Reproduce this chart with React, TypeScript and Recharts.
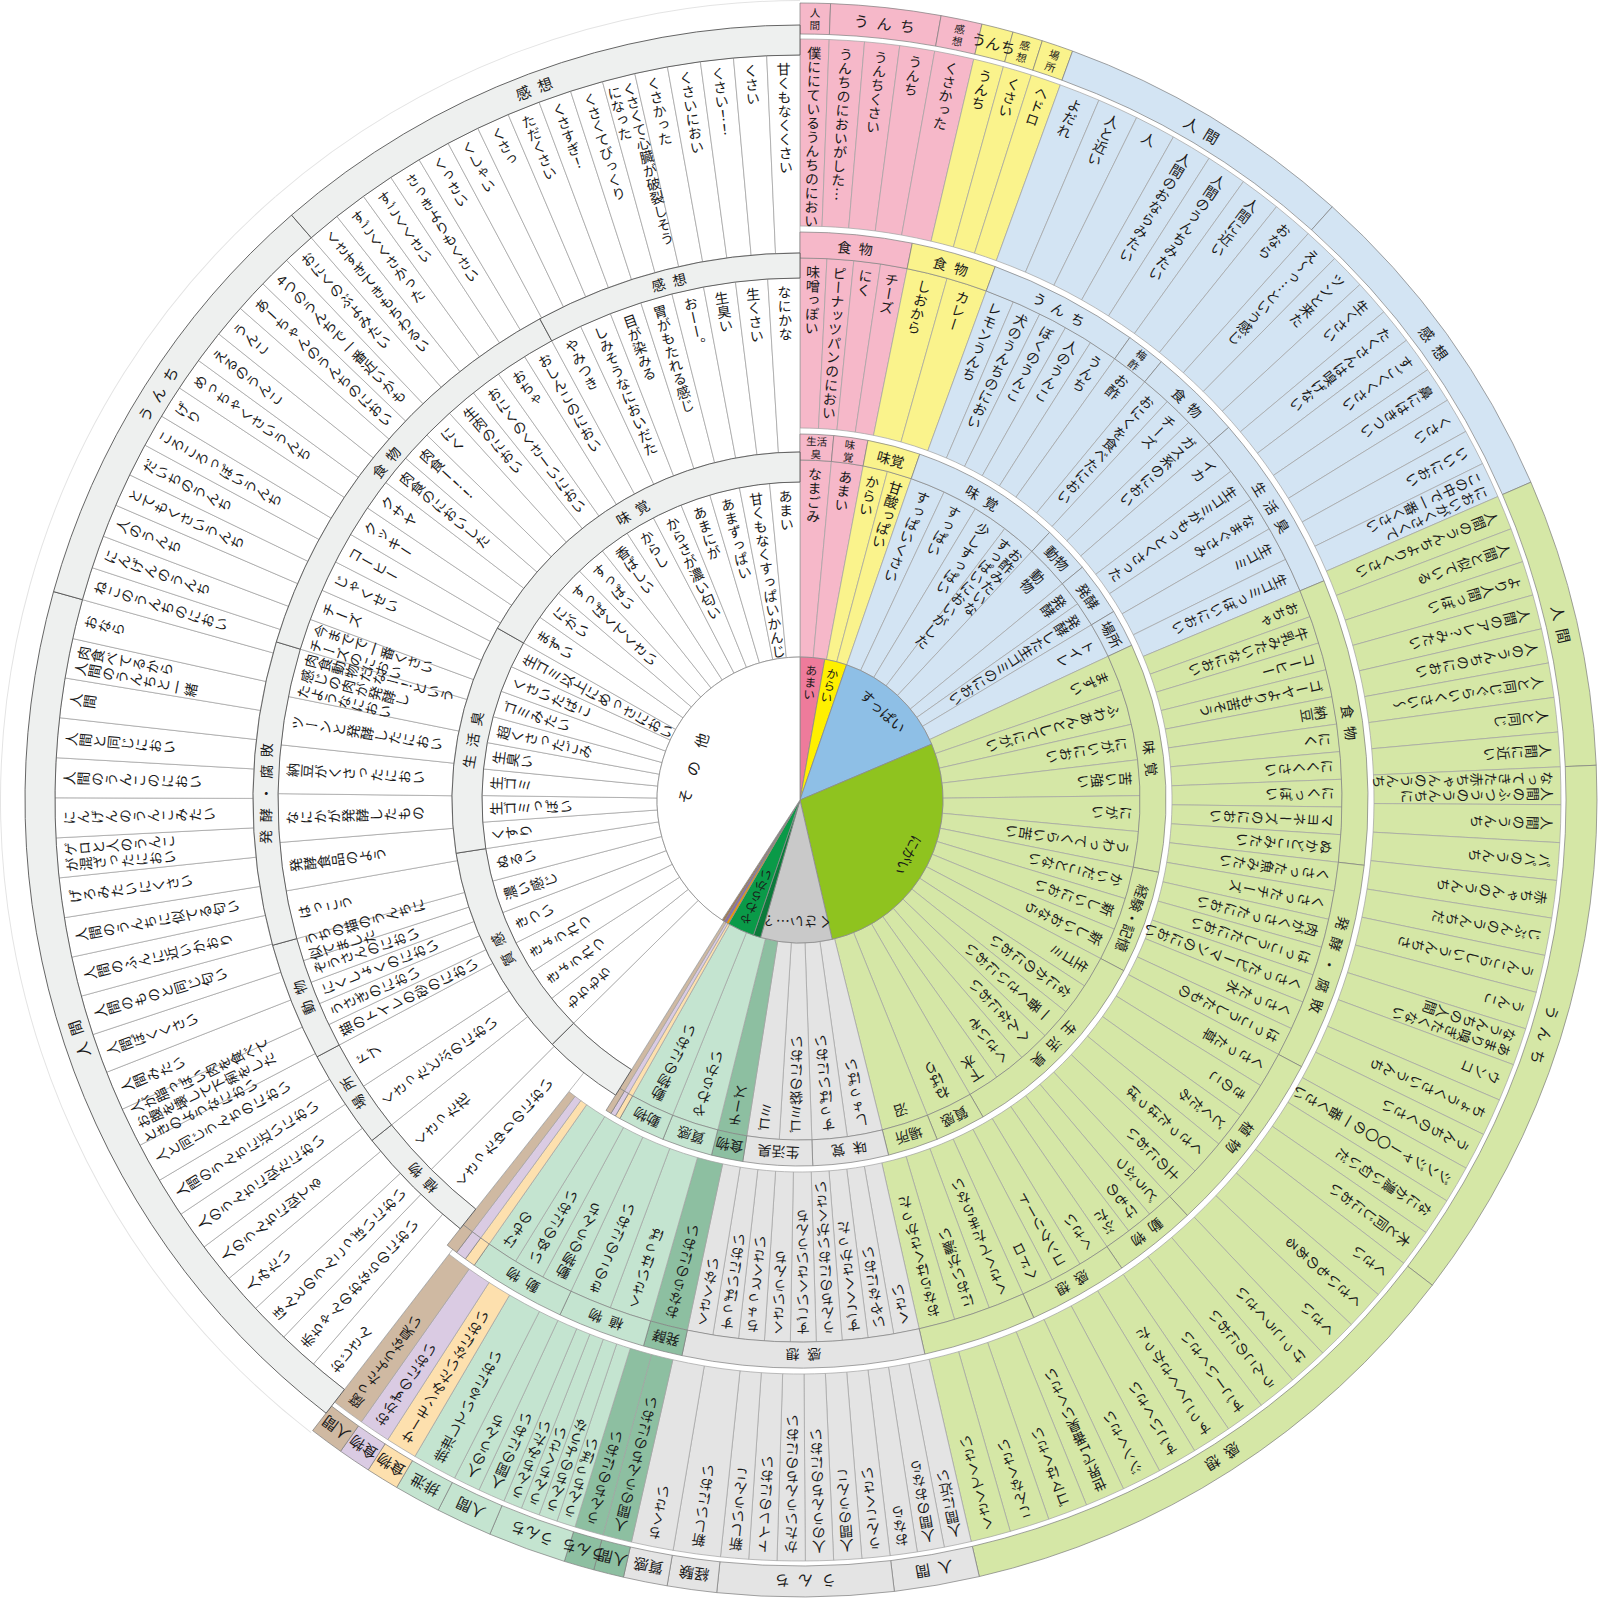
import React from 'react';
import { PieChart, Pie, Cell } from 'recharts';

const FONT = '"Noto Sans CJK JP", "Noto Sans", sans-serif';

// ring fill per category
const LEAF_COLOR: Record<string, string> = {
  amai: '#f6b8c9',
  karai: '#faf38c',
  suppai: '#d3e4f3',
  nigai: '#d5e7a6',
  kusai: '#e4e4e4',
  tealDark: '#8dbfa1',
  teal: '#c4e4d0',
  orange: '#fde0ae',
  purple: '#dacbe3',
  brown: '#cfb9a2',
  other: '#ffffff',
};

const CENTER_COLOR: Record<string, string> = {
  amai: '#ee7b9b',
  karai: '#fff000',
  suppai: '#8ebfe6',
  nigai: '#8fc31f',
  kusai: '#c9c9c9',
  tealDark: '#0b7a3a',
  teal: '#0a9a48',
  orange: '#f39800',
  purple: '#8c6aae',
  brown: '#a47b55',
  other: '#ffffff',
};

// center pie
const CENTER_CATS = ['amai', 'karai', 'suppai', 'nigai', 'kusai', 'tealDark', 'teal', 'orange', 'purple', 'brown', 'other'];
const CENTER_LABELS = ['あまい', 'からい', 'すっぱい', 'にがい', 'くさい…？', '', 'やわらかい', '', '', '', 'その他'];
const CENTER_VALUES = [10, 9, 48, 100, 29, 3, 11, 1, 1, 1, 147];

// [category, group name, span in degrees, items] clockwise from 12 o'clock
type Group = [string, string, number, string[]];

const INNER_GROUPS: Group[] = [
  ['amai', '生活\n臭', 5.3, ['なまごみ']],
  ['amai', '味\n覚', 5.4, ['あまい']],
  ['karai', '味覚', 8.4, ['からい', '甘酸っぱい']],
  ['suppai', '味覚', 23.9, ['すっぱいくさい', 'すっぱい', '少しすっぱい', 'お酢みたいな\nすっぱいにおいがした']],
  ['suppai', '動物', 7.5, ['動物']],
  ['suppai', '発酵', 8.5, ['発酵', '発酵した生ゴミのにおい']],
  ['suppai', '場所', 6, ['トイレ']],
  ['nigai', '味覚', 36.4, ['まずい', 'ふわあんとしてにがい', 'にがいにおい', '苦い強い', 'にがい', 'うわってくらい苦い']],
  ['nigai', '経験・記憶', 16.4, ['かいだことない', '新しいにおい', '新しいおなら']],
  ['nigai', '生活臭', 32.2, ['生ゴミ', 'なにかのにおい', '一番くさいにおい', 'へんなにおい', 'くさいぞ', '下水']],
  ['nigai', '質感', 8, ['ねばり']],
  ['nigai', '場所', 8, ['沼']],
  ['kusai', '味覚', 12, ['しょっぱい', 'すっぱいにおい']],
  ['kusai', '生活臭', 11, ['ゴミ袋のにおい', 'ゴミ']],
  ['tealDark', '食物', 5, ['チーズ']],
  ['teal', '質感', 8, ['やわらかい']],
  ['teal', '動物', 7.5, ['動物のにおい']],
  ['orange', '', 0.8, ['']],
  ['purple', '', 0.8, ['']],
  ['brown', '', 0.9, ['']],
  ['other', '', 13.4, ['']],
  ['other', '質感', 35.8, ['もちもち', 'きょうれつ', 'きょうれつ', 'きつい', '濃い感じ', 'ぬるい']],
  ['other', '生活臭', 38.4, ['くすり', '生ゴミっぽい', '生ゴミ', '生臭い', '超くさったごみ', 'ゴミみたい', 'くさいたばこ', '生ゴミ以上にめっさにおい']],
  ['other', '味覚', 60.4, ['まずい', 'にがい', 'すっぱくてくさい', 'すっぱい', '香ばしい', 'からし', 'からさが濃い匂い', 'あまにが', 'あまずっぱい', '甘くもなくすっぱいかんじ', 'あまい']],
];

const MIDDLE_GROUPS: Group[] = [
  ['amai', '食物', 11.4, ['味噌っぽい', 'ピーナッツパンのにおい', 'にく', 'チーズ']],
  ['karai', '食物', 8.7, ['しおから', 'カレー']],
  ['suppai', 'うんち', 15.4, ['レモンうんち', '犬のうんちのにおい', 'ぼくのうんこ', '人のうんこ', 'うんち']],
  ['suppai', '梅\n酢', 4, ['お酢']],
  ['suppai', '食物', 9.5, ['おにくを食べたにおい', 'チーズ', 'ガス系のにおい']],
  ['suppai', '生活臭', 18.3, ['イカ', '生ゴミがもっとくさった', 'なまぐさみ', '生ゴミ', '生ゴミっぽいにおい']],
  ['nigai', '食物', 29.3, ['おちゃ', '牛乳みたいなにおい', 'コーヒー', 'ゴーヤよりも苦そう', '納豆', 'にく', 'にくくさい', 'にくっぽい', 'マヨネーズのにおい', 'ぬかどこみたい']],
  ['nigai', '発酵・腐敗', 21.4, ['くさった魚みたい', 'くさったチーズ', '肉がくさったにおい', 'はっこうしたにおい', 'くさったピーマンのにおい', 'くさった水', 'はっこうしたもの']],
  ['nigai', '植物', 19, ['くさった草', 'きのこ', 'どくだみ', 'くさったはっぱ', '土のにおい']],
  ['nigai', '動物', 8.5, ['どうぶつ', 'けもの', 'ぶた']],
  ['nigai', '感想', 10.2, ['くさい', 'コンクリート', 'ヘドロ']],
  ['nigai', '', 11.6, ['くさくてたまらない', 'においが濃い', 'おならはくさかった']],
  ['kusai', '感想', 24.7, ['くさい', 'いやなにおい', 'すごくくさかった', 'うんちのにおいがくさい', 'すごいくさいうんち', 'くさいうんち', 'ちょっとくさい', 'すっぱいにおい', 'くさくない']],
  ['tealDark', '発酵', 4, ['おならのにおい']],
  ['teal', '植物', 9, ['くさいはっぱ', 'きのこのにおい']],
  ['teal', '動物', 10, ['動物のうんち', 'いぬのにおい', 'けもの']],
  ['orange', '', 1.1, ['']],
  ['purple', '', 1.1, ['']],
  ['brown', '', 1.2, ['']],
  ['other', '植物', 13.1, ['くさったゆりのにおい', 'くさった花']],
  ['other', '場所', 10.5, ['くさったどぶのにおい', 'ドブ']],
  ['other', '動物', 12.6, ['猫のトイレの砂のにおい', 'うさぎのにおい', 'にくしょくのにおい', 'ぞうさんのにおい', 'うちの猫のうんちに\n似てました']],
  ['other', '発酵・腐敗', 32.2, ['はっこう', '発酵食品のよう', 'なにかが発酵したもの', '納豆がくさったにおい', 'ツーンと発酵したにおい', '肉食動物だなー！という\n感じの肉が発酵し\nたようなにおい']],
  ['other', '食物', 44.8, ['今までで一番くさい\nチーズのにおい', 'チーズ', 'じゃくせい', 'コーヒー', 'クッキー', 'クサヤ', '肉食のにおいした', '肉食ー！！', 'にく', '生肉のにおい', 'おにくのくさーいにおい', 'おちゃ', 'おしんこのにおい']],
  ['other', '感想', 28.4, ['やみつき', 'しみそうなにおいだた', '目が染みる', '胃がもたれる感じ', 'おーー。', '生臭い', '生くさい', 'なにかな']],
];

const OUTER_GROUPS: Group[] = [
  ['amai', '人\n間', 2.2, ['僕ににているうんちのにおい']],
  ['amai', 'うんち', 8, ['うんちのにおいがした…', 'うんちくさい', 'うんち']],
  ['amai', '感\n想', 3, ['くさかった']],
  ['karai', 'うんち', 2.3, ['うんち']],
  ['karai', '感\n想', 2.2, ['くさい']],
  ['karai', '場\n所', 2.3, ['ヘドロ']],
  ['suppai', '人間', 21.9, ['よだれ', '人と近い', '人', '人間のおならみたい', '人間のうんちみたい', '人間に近い', 'おなら']],
  ['suppai', '感想', 24.6, ['え～っ…という感じ', 'ツンと来た', '生くさい', 'たくさんは嗅げない', 'すごくくさい', '鼻にはきつい', 'くさい', 'いいにおい', 'においがくさくて\nこの中で一番くさい']],
  ['nigai', '人間', 21, ['人間のうんちよりくさい', '人間と似ている', 'より人間っぽい', '人間のアレ？みたい', '人のうんちのにおい', '人と同じぐらいくさい～', '人と同じ', '人間に近い']],
  ['nigai', 'うんち', 40, ['人間のふつうのうんちに\nなってきた赤ちゃんのうんち', '人間のうんち', 'パパのうんち', '赤ちゃんのうんち', 'じぶんのうんちだ', 'うんこらしいうんちさ', 'うんこ', 'あまり嗅ぎたくない\nなうんちの人間', 'ウンコ', 'ちょうくさいうんち', 'うんちのくさい', 'ジンジャー〇〇の一番くさい', 'なにか濃い匂いだ', '木と同じにおい']],
  ['nigai', '感想', 39.5, ['くさい', 'くさいものある', 'くさい', 'けっこうくさい', 'うんこのにおい', 'すごーいくさい', 'すっごくくさかった', 'すごいくさい', 'ジンくさい', '世界で1番臭いくさい', 'ゴマはくさい', 'こんなくさい', 'くさくてくさい']],
  ['kusai', '人間', 6.2, ['人間に近い', '人間のおなら', 'おなら']],
  ['kusai', 'うんち', 12.8, ['うんこくさい', '人間のうんこ', '人のうんちのにおい', 'かたいうんちのにおい', 'トイレのにおい', '新しいうんこ']],
  ['kusai', '経験', 3.6, ['新しいにおい']],
  ['kusai', '質感', 3.2, ['ちくさい']],
  ['tealDark', '人間', 2.2, ['人間のうんちのにおい']],
  ['tealDark', 'うんち', 2.2, ['うんちのにおい']],
  ['teal', 'うんち', 5.7, ['うんちっぽい', 'うんちのような', 'うんちくさい', 'うんちみたい']],
  ['teal', '人間', 4.1, ['人間のにおい', '人のうんち']],
  ['teal', '排泄', 3.4, ['排泄しているにおい']],
  ['orange', '食物', 2.4, ['サーモンみたいなにおい']],
  ['purple', '食物', 2.4, ['おかずのにおい']],
  ['brown', '人間', 2.5, ['腐ったような臭い']],
  ['other', '人間', 67.9, ['おじさん', '赤ちゃんのおならのにおい', 'ほんとのうんこっぽいにおい', '人みたい', '人のうんちに似てる', '人のうんちに似たにおい', '人間のうんちに近いにおい', '人と同じうんちのにおい', '人が脂っぽい肉を食べて\nお腹を壊して下痢をした\nときのようなにおい', '人間みたい', '人間ぽくくさい', '人間のものと同じ匂い', '人間のふんに近いかおり', '人間のうんちに似てる匂い', 'げろみたいにくさい', 'ゲロと人のうんこ\nが混ざったにおい', 'にんげんのうんこみたい', '人間のうんこのにおい', '人間と同じにおい', '人間', '肉食べてるから\n人間のうんちと一緒', 'おなら']],
  ['other', 'うんち', 33.4, ['ねこのうんちのにおい', 'にんげんのうんち', '人のうんち', 'とてもくさいうんち', 'だいちのうんち', 'ころころっぽいうんち', 'げり', 'めっちゃくさいうんち', 'えるのうんこ', 'うんこ', 'あーちゃんのうんちのにおい', '4つのうんちで一番近いかも', 'おにくのぶよみたい']],
  ['other', '感想', 41, ['くさすぎてきもちわるい', 'すごくくさかった', 'すごくくさい', 'さっきよりもくさい', 'くっさい', 'くしゃい', 'くさっ', 'ただくさい', 'くさすぎ！', 'くさくてびっくり', 'くさくて心臓が破裂しそう\nになった', 'くさかった', 'くさいにおい', 'くさい！！', 'くさい', '甘くもなくくさい']],
];

// radii: colored / white (その他)
const INNER_R = { leafIn: 143, leafOut: 340, headIn: 340, headOut: 366, wLeafOut: 318, wHeadOut: 348 };
const MIDDLE_R = { leafIn: 372, leafOut: 542, headIn: 542, headOut: 568, wLeafIn: 348, wLeafOut: 522, wHeadOut: 547 };
const OUTER_R = { leafIn: 574, leafOut: 761, headIn: 766, headOut: 797, wLeafIn: 547, wLeafOut: 745, wHeadOut: 775 };

const CX = 800;
const CY = 800;

type Leaf = { cat: string; label: string; value: number };

function buildRing(groups: Group[]) {
  const leaves: Leaf[] = [];
  const heads: Leaf[] = [];
  groups.forEach(([cat, name, span, items]) => {
    items.forEach((it) => leaves.push({ cat, label: it, value: span / items.length }));
    heads.push({ cat, label: name, value: span });
  });
  return { leaves, heads };
}

// vertical (tategaki) text running from the outside inward
function radialText(cx: number, cy: number, angle: number, r: number, label: string, size: number, key?: string) {
  const lines = label.split('\n');
  const gap = size * 1.12;
  return (
    <g key={key} transform={`translate(${cx},${cy}) rotate(${90 - angle})`}>
      {lines.map((ln, i) => (
        <text
          key={i}
          x={((lines.length - 1) / 2 - i) * gap}
          y={-r}
          fontSize={size}
          fill="#1a1a1a"
          fontFamily={FONT}
          textAnchor="start"
          style={{ writingMode: 'vertical-rl' }}
        >
          {ln}
        </text>
      ))}
    </g>
  );
}

// text along the arc, tops pointing outward
function arcText(cx: number, cy: number, angle: number, r: number, label: string, size: number, spacing: number) {
  const lines = label.split('\n');
  const lh = size * 1.2;
  return (
    <g transform={`translate(${cx},${cy}) rotate(${90 - angle})`}>
      {lines.map((ln, i) => (
        <text
          key={i}
          x={spacing / 2}
          y={-r + (i - (lines.length - 1) / 2) * lh}
          fontSize={size}
          fill="#1a1a1a"
          fontFamily={FONT}
          textAnchor="middle"
          dominantBaseline="central"
          letterSpacing={spacing}
        >
          {ln}
        </text>
      ))}
    </g>
  );
}

function ringPies(id: string, groups: Group[], R: any, leafSize: number, headSize: number) {
  const { leaves, heads } = buildRing(groups);
  const white = (c: string) => c === 'other';
  const common = {
    cx: CX,
    cy: CY,
    startAngle: 90,
    endAngle: -270,
    dataKey: 'value',
    isAnimationActive: false,
    labelLine: false,
    paddingAngle: 0,
  };
  const leafLabel = (wantWhite: boolean, rOut: number) => (p: any) => {
    const d = leaves[p.index];
    if (!d || white(d.cat) !== wantWhite || !d.label) return null;
    return radialText(p.cx, p.cy, p.midAngle, rOut - 7, d.label, leafSize);
  };
  const headLabel = (wantWhite: boolean, rMid: number) => (p: any) => {
    const d = heads[p.index];
    if (!d || white(d.cat) !== wantWhite || !d.label) return null;
    const arcLen = (d.value * Math.PI * rMid) / 180;
    const multi = d.label.includes('\n');
    const size = multi ? 10.5 : headSize;
    const spacing = !multi && arcLen > d.label.length * headSize * 2.2 ? headSize * 0.55 : 0;
    return arcText(p.cx, p.cy, p.midAngle, rMid, d.label, size, spacing);
  };
  const wLeafIn = R.wLeafIn ?? R.leafIn;
  return [
    <Pie key={id + 'cl'} {...common} data={leaves} innerRadius={R.leafIn} outerRadius={R.leafOut} label={leafLabel(false, R.leafOut)}>
      {leaves.map((d, i) => (
        <Cell key={i} fill={white(d.cat) ? 'none' : LEAF_COLOR[d.cat]} stroke={white(d.cat) ? 'none' : '#a2a2a2'} strokeWidth={0.7} />
      ))}
    </Pie>,
    <Pie key={id + 'ch'} {...common} data={heads} innerRadius={R.headIn} outerRadius={R.headOut} label={headLabel(false, (R.headIn + R.headOut) / 2)}>
      {heads.map((d, i) => (
        <Cell key={i} fill={white(d.cat) ? 'none' : LEAF_COLOR[d.cat]} stroke={white(d.cat) ? 'none' : '#7d7d7d'} strokeWidth={0.7} />
      ))}
    </Pie>,
    <Pie key={id + 'wl'} {...common} data={leaves} innerRadius={wLeafIn} outerRadius={R.wLeafOut} label={leafLabel(true, R.wLeafOut)}>
      {leaves.map((d, i) => (
        <Cell key={i} fill={white(d.cat) ? '#ffffff' : 'none'} stroke={white(d.cat) ? '#9d9d9d' : 'none'} strokeWidth={0.7} />
      ))}
    </Pie>,
    <Pie key={id + 'wh'} {...common} data={heads} innerRadius={R.wLeafOut} outerRadius={R.wHeadOut} label={headLabel(true, (R.wLeafOut + R.wHeadOut) / 2)}>
      {heads.map((d, i) => (
        <Cell key={i} fill={white(d.cat) ? '#eef0ef' : 'none'} stroke={white(d.cat) ? '#555555' : 'none'} strokeWidth={0.9} />
      ))}
    </Pie>,
  ];
}

export default function App() {
  const center = CENTER_CATS.map((c, i) => ({ cat: c, label: CENTER_LABELS[i], value: CENTER_VALUES[i] }));
  const outerFaint = buildRing(OUTER_GROUPS).heads;
  const centerLabel = (p: any) => {
    const d = center[p.index];
    if (!d || !d.label) return null;
    if (d.value < 15) return radialText(p.cx, p.cy, p.midAngle, 136, d.label, 12);
    if (d.cat === 'other') return arcText(p.cx, p.cy, p.midAngle, 112, d.label, 15, 14);
    return arcText(p.cx, p.cy, p.midAngle, 122, d.label, 14, 0);
  };
  return (
    <div style={{ width: 1600, height: 1600, background: '#fff' }}>
      <style>{'body{margin:0}'}</style>
      <PieChart width={1600} height={1600} margin={{ top: 0, right: 0, bottom: 0, left: 0 }}>
        <Pie
          data={outerFaint}
          dataKey="value"
          cx={CX}
          cy={CY}
          startAngle={90}
          endAngle={-270}
          innerRadius={799}
          outerRadius={800}
          isAnimationActive={false}
        >
          {outerFaint.map((d, i) => (
            <Cell key={i} fill={d.cat === 'other' ? '#e4e4e4' : 'none'} stroke="none" />
          ))}
        </Pie>
        {ringPies('o', OUTER_GROUPS, OUTER_R, 14, 15)}
        {ringPies('m', MIDDLE_GROUPS, MIDDLE_R, 14, 14)}
        {ringPies('i', INNER_GROUPS, INNER_R, 14, 14)}
        <Pie
          data={center}
          dataKey="value"
          cx={CX}
          cy={CY}
          startAngle={90}
          endAngle={-270}
          innerRadius={0}
          outerRadius={143}
          isAnimationActive={false}
          labelLine={false}
          label={centerLabel}
        >
          {center.map((d, i) => (
            <Cell key={i} fill={CENTER_COLOR[d.cat]} stroke="#8a8a8a" strokeWidth={0.8} />
          ))}
        </Pie>
      </PieChart>
    </div>
  );
}
